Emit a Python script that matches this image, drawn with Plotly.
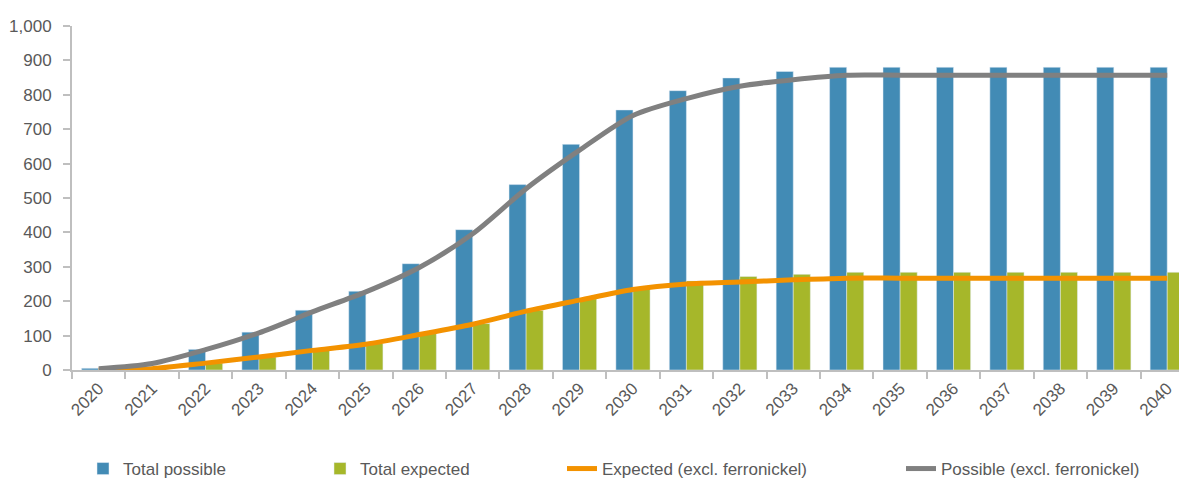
import plotly.graph_objects as go

years = [str(y) for y in range(2020, 2041)]

total_possible = [5, 0, 60, 110, 174, 229, 309, 408, 539, 656, 756, 812, 849, 868,
                  880, 880, 880, 880, 880, 880, 880]
total_expected = [0, 0, 20, 38, 57, 77, 106, 135, 173, 207, 240, 259, 272, 278,
                  284, 284, 284, 284, 284, 284, 284]
expected_excl = [0, 4, 20, 38, 57, 75, 103, 133, 171, 203, 234, 250, 256, 262,
                 267, 267, 267, 267, 267, 267, 267]
possible_excl = [4, 19, 59, 108, 169, 227, 298, 396, 527, 639, 740, 789, 825, 844,
                 857, 857, 857, 857, 857, 857, 857]

font_family = "Liberation Sans, Arial, sans-serif"
text_color = "#595959"
axis_color = "#BFBFBF"

# the page body adds an 8px offset, so the figure is drawn 8px smaller
OFF = 8
W, H = 1187 - OFF, 479 - OFF

fig = go.Figure()

fig.add_trace(go.Bar(x=years, y=total_possible, name="Total possible",
                     marker=dict(color="#428BB5"), legend="legend"))
fig.add_trace(go.Bar(x=years, y=total_expected, name="Total expected",
                     marker=dict(color="#A6B72A"), legend="legend2"))
fig.add_trace(go.Scatter(x=years, y=expected_excl, mode="lines",
                         name="Expected (excl. ferronickel)", legend="legend3",
                         line=dict(color="#F39200", width=5, shape="spline", smoothing=0.8)))
fig.add_trace(go.Scatter(x=years, y=possible_excl, mode="lines",
                         name="Possible (excl. ferronickel)", legend="legend4",
                         line=dict(color="#808080", width=5, shape="spline", smoothing=0.8)))


def legend_at(text_x):
    # one-item legend whose label starts at text_x (window pixels)
    return dict(orientation="h", xref="container", yref="container",
                x=(text_x - OFF - 40) / W, xanchor="left",
                y=1 - (469 - OFF) / H, yanchor="middle",
                font=dict(size=17, color=text_color), bgcolor="rgba(0,0,0,0)")


fig.update_layout(
    width=W, height=H,
    margin=dict(l=72 - OFF, r=0, t=26 - OFF, b=H - (370 - OFF), autoexpand=False),
    plot_bgcolor="white", paper_bgcolor="white",
    barmode="group", bargap=0.36, bargroupgap=0,
    font=dict(family=font_family, color=text_color, size=16),
    showlegend=True,
    legend=legend_at(123),
    legend2=legend_at(360),
    legend3=legend_at(602),
    legend4=legend_at(941),
)

fig.update_xaxes(
    type="category", range=[-0.5, 20.37],
    showline=True, linecolor=axis_color, linewidth=2,
    ticks="outside", tickson="boundaries", ticklen=7, tickcolor=axis_color, tickwidth=2,
    tickangle=-45, tickfont=dict(size=17, color=text_color),
    showgrid=False, zeroline=False,
)
fig.update_yaxes(
    range=[0, 1000], dtick=100, tickformat=",d",
    showline=True, linecolor=axis_color, linewidth=2,
    ticks="outside", ticklen=7, tickcolor=axis_color, tickwidth=2,
    ticklabelstandoff=8,
    tickfont=dict(size=17, color=text_color),
    showgrid=False, zeroline=False,
)

fig.write_html("out.html")
